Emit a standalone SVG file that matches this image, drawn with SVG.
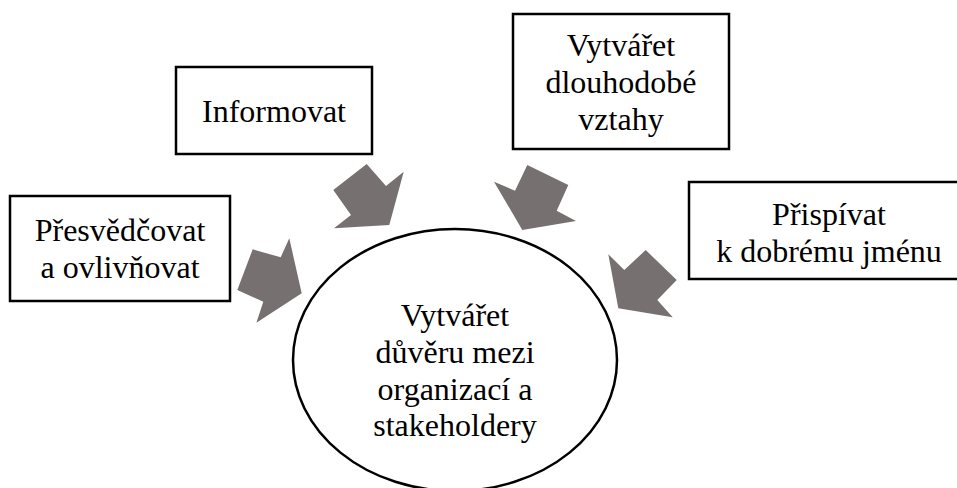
<svg xmlns="http://www.w3.org/2000/svg" width="957" height="488" viewBox="0 0 957 488">
<style>
.box{fill:#fff;stroke:#000;stroke-width:2.5}
.oval{fill:#fff;stroke:#000;stroke-width:2.5}
text{font-family:"Liberation Serif","Times New Roman",serif;font-size:32px;fill:#000;text-anchor:middle}
.arr{fill:#767170;stroke:none}
</style>
<rect width="957" height="488" fill="#fff"/>
<g id="node-informovat">
<rect class="box" x="176" y="67" width="196" height="87"/>
<text x="274" y="122">Informovat</text>
</g>
<g id="node-vztahy">
<rect class="box" x="513" y="14" width="216" height="135"/>
<text x="621" y="56">Vytvářet</text>
<text x="621" y="93">dlouhodobé</text>
<text x="621" y="130">vztahy</text>
</g>
<g id="node-presvedcovat">
<rect class="box" x="10" y="196" width="220" height="105"/>
<text x="120" y="241">Přesvědčovat</text>
<text x="120" y="278">a ovlivňovat</text>
</g>
<g id="node-prispivat">
<rect class="box" x="689" y="182" width="290" height="97"/>
<text x="829" y="225">Přispívat</text>
<text x="829" y="262">k dobrému jménu</text>
</g>
<g id="node-duvera">
<ellipse class="oval" cx="455" cy="360" rx="162" ry="131"/>
<text x="455" y="326">Vytvářet</text>
<text x="455" y="363">důvěru mezi</text>
<text x="455" y="399.5">organizací a</text>
<text x="455" y="436">stakeholdery</text>
</g>
<g id="connectors">
<polygon class="arr" points="366.7,164 386,186 403.7,171.7 389.3,225 334,228.3 351,215 333.3,190"/>
<polygon class="arr" points="252.7,249.3 280.7,257.3 289.3,238.3 301.7,293.3 256.4,322.7 263.3,301.7 237.3,290"/>
<polygon class="arr" points="527.3,165 568.3,185 556.7,210.7 576,221 522.3,230 494,181.7 515,190.7"/>
<polygon class="arr" points="645.7,250 676.7,280 657.3,300 672.7,317.3 618.3,308.3 608.3,254.3 624.3,270"/>
</g>
</svg>
